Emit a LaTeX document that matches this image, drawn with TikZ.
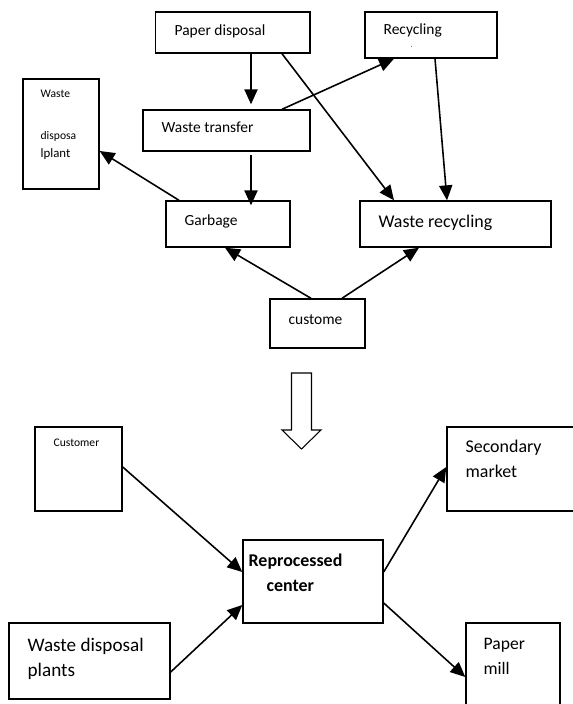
\documentclass[tikz,border=0pt]{standalone}
\usepackage{fontspec}
\setmainfont{Carlito}
\usetikzlibrary{arrows.meta}
\begin{document}
\begin{tikzpicture}[
	box/.style={draw, line width=0.8pt, inner sep=0pt},
	lbl/.style={inner sep=0pt, align=left, anchor=base west},
	midtext/.style={font=\fontsize{8.8}{10.6}\selectfont},
	bigtext/.style={font=\fontsize{10.2}{14.2}\selectfont},
	smalltext/.style={font=\fontsize{6.6}{10}\selectfont},
	solidarrow/.style={line width=0.9pt, -{Triangle[length=8.5pt, width=7.5pt]}}
	]
	
	\useasboundingbox (0,0) rectangle (11.46,14.08);
	\clip (0,0) rectangle (11.46,14.08);
	
	\begin{scope}
	\node[box, minimum width=3.09cm, minimum height=0.82cm] (pd) at (4.655,13.43) {};
	\node[box, minimum width=2.64cm, minimum height=0.92cm] (rec) at (8.62,13.38) {};
	\node[box, minimum width=1.52cm, minimum height=2.2cm] (wdp) at (1.22,11.40) {};
	\node[box, minimum width=3.34cm, minimum height=0.82cm] (wt) at (4.53,11.47) {};
	\node[box, minimum width=2.48cm, minimum height=0.92cm] (gb) at (4.56,9.60) {};
	\node[box, minimum width=3.82cm, minimum height=0.92cm] (wr) at (9.11,9.60) {};
	\node[box, minimum width=1.9cm, minimum height=0.98cm] (cu) at (6.35,7.61) {};
	
	\node[lbl, midtext] (pdT) at ([shift={(0.39,-0.48)}]pd.north west) {Paper disposal};
	\node[lbl, midtext] (recT) at ([shift={(0.38,-0.72)}]rec.north west)
		{Recycling\\[-3.5pt]\hspace*{0.54cm}{\fontsize{4}{4}\selectfont .}};
	\node[lbl, smalltext] (wdpT) at ([shift={(0.36,-1.58)}]wdp.north west)
		{Waste\\[0.5cm]disposa\\{\fontsize{7.3}{10}\selectfont lplant}};
	\node[lbl, midtext] (wtT) at ([shift={(0.38,-0.46)}]wt.north west) {Waste transfer};
	\node[lbl, midtext] (gbT) at ([shift={(0.38,-0.50)}]gb.north west) {Garbage};
	\node[lbl, bigtext] (wrT) at ([shift={(0.38,-0.54)}]wr.north west) {Waste recycling};
	\node[lbl, midtext] (cuT) at ([shift={(0.38,-0.52)}]cu.north west) {custome};
	
	\draw[solidarrow] ([xshift=0.365cm]pd.south) -- ([xshift=0.49cm, yshift=0.1cm]wt.north);
	\draw[solidarrow] ([xshift=0.985cm]pd.south) -- ([xshift=-1.23cm]wr.north);
	\draw[solidarrow] ([xshift=1.11cm]wt.north) -- ([xshift=-0.74cm]rec.south);
	\draw[solidarrow] ([xshift=0.08cm]rec.south) -- ([xshift=-0.17cm]wr.north);
	\draw[solidarrow] ([xshift=0.49cm, yshift=-0.06cm]wt.south) -- ([xshift=0.46cm, yshift=-0.1cm]gb.north);
	\draw[solidarrow] ([xshift=-0.98cm]gb.north) -- ([yshift=-0.34cm]wdp.east);
	\draw[solidarrow] ([xshift=-0.13cm]cu.north) -- ([xshift=-0.06cm]gb.south);
	\draw[solidarrow] ([xshift=0.49cm]cu.north) -- ([xshift=-0.73cm]wr.south);
	\end{scope}
	
	\draw[line width=0.6pt] (5.83,6.62) -- (6.23,6.62) -- (6.23,5.48) -- (6.42,5.48)
		-- (6.03,5.10) -- (5.64,5.48) -- (5.83,5.48) -- cycle;
	
	\begin{scope}
	\node[box, minimum width=1.74cm, minimum height=1.68cm] (cust) at (1.57,4.70) {};
	\node[box, minimum width=2.86cm, minimum height=1.68cm] (sm) at (10.37,4.70) {};
	\node[box, minimum width=2.8cm, minimum height=1.66cm] (rc) at (6.26,2.45) {};
	\node[box, minimum width=3.22cm, minimum height=1.52cm] (wdpl) at (1.79,0.86) {};
	\node[box, minimum width=1.88cm, minimum height=2.34cm] (pm) at (10.26,0.45) {};
	
	\node[lbl, smalltext] (custT) at ([shift={(0.38,-0.40)}]cust.north west) {Customer};
	\node[lbl, bigtext] (smT) at ([shift={(0.38,-1.02)}]sm.north west) {Secondary\\market};
	\node[lbl, bigtext, font=\fontsize{10.2}{14.2}\selectfont\bfseries] (rcT)
		at ([shift={(0.12,-1.04)}]rc.north west) {Reprocessed\\\hspace*{0.36cm}center};
	\node[lbl, bigtext, font=\fontsize{10.9}{14.2}\selectfont] (wdplT)
		at ([shift={(0.38,-1.08)}]wdpl.north west) {Waste disposal\\plants};
	\node[lbl, bigtext, font=\fontsize{10}{14.2}\selectfont] (pmT)
		at ([shift={(0.36,-1.04)}]pm.north west) {Paper\\mill};
	
	\draw[solidarrow] ([yshift=0.04cm]cust.east) -- ([yshift=0.19cm]rc.west);
	\draw[solidarrow] ([yshift=-0.22cm]wdpl.east) -- ([yshift=-0.47cm]rc.west);
	\draw[solidarrow] ([yshift=0.19cm]rc.east) -- ([yshift=0.04cm]sm.west);
	\draw[solidarrow] ([yshift=-0.43cm]rc.east) -- ([yshift=0.09cm]pm.west);
	\end{scope}
\end{tikzpicture}
\end{document}
